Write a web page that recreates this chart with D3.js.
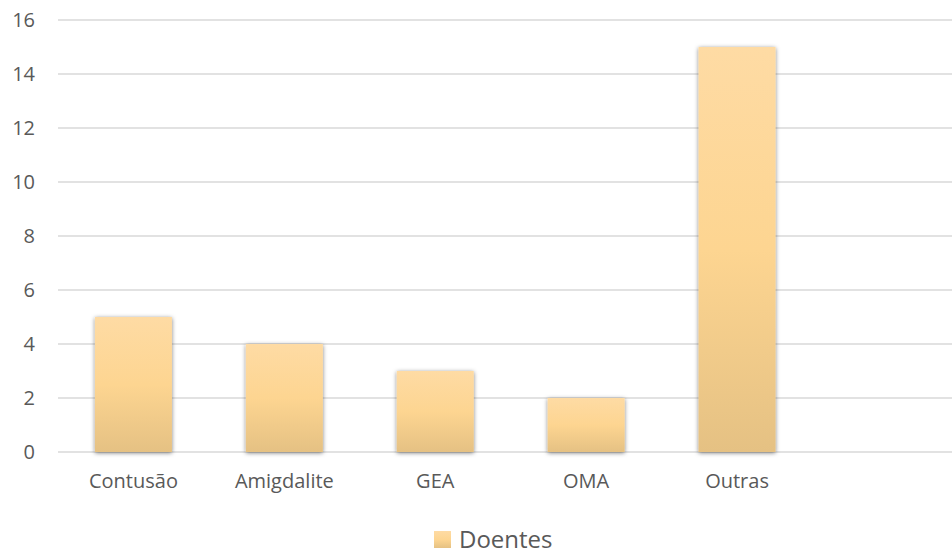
<!DOCTYPE html>
<html>
<head>
<meta charset="utf-8">
<script src="https://cdn.jsdelivr.net/npm/d3@7"></script>
<style>
  body { margin: 0; background: #fff; }
  text { font-family: "Open Sans", "Noto Sans", sans-serif; fill: #595959; }
</style>
</head>
<body>
<div id="chart"></div>
<script>
// data
const categories = ["Contusão", "Amigdalite", "GEA", "OMA", "Outras", ""];
const doentes = [5, 4, 3, 2, 15];
const yTicks = [0, 2, 4, 6, 8, 10, 12, 14, 16];
const seriesName = "Doentes";

const width = 952, height = 554;

const svg = d3.select("#chart").append("svg")
    .attr("width", width)
    .attr("height", height);

const defs = svg.append("defs");

// light top to darker bottom, like the office fill
const grad = defs.append("linearGradient")
    .attr("id", "barFill")
    .attr("x1", 0).attr("y1", 0).attr("x2", 0).attr("y2", 1);
grad.append("stop").attr("offset", "0%").attr("stop-color", "#fedba4");
grad.append("stop").attr("offset", "50%").attr("stop-color", "#fdd591");
grad.append("stop").attr("offset", "100%").attr("stop-color", "#e5c183");

const shadow = defs.append("filter")
    .attr("id", "barShadow")
    .attr("x", "-20%").attr("y", "-20%")
    .attr("width", "140%").attr("height", "140%");
shadow.append("feDropShadow")
    .attr("dx", 0).attr("dy", 1)
    .attr("stdDeviation", 2.2)
    .attr("flood-color", "#000")
    .attr("flood-opacity", 0.5);

const x = d3.scaleBand()
    .domain(categories)
    .range([58, 963.4])
    .paddingInner(0.49)
    .paddingOuter(0.245);

const y = d3.scaleLinear()
    .domain([0, 16])
    .range([452, 20]);

// gridlines
svg.append("g")
    .selectAll("line")
    .data(yTicks)
    .enter().append("line")
    .attr("x1", 58)
    .attr("x2", 963.4)
    .attr("y1", d => y(d))
    .attr("y2", d => y(d))
    .attr("stroke", "#d9d9d9")
    .attr("stroke-width", 1.5);

// y axis labels
const yAxis = d3.axisLeft(y).tickValues(yTicks).tickSize(0).tickPadding(0);
svg.append("g")
    .attr("transform", "translate(35,0)")
    .call(yAxis)
    .call(g => g.select(".domain").remove())
    .selectAll("text")
    .attr("font-family", null)
    .style("font-size", "20px")
    .attr("fill", null);

// bars
svg.append("g")
    .selectAll("rect")
    .data(doentes)
    .enter().append("rect")
    .attr("x", (d, i) => x(categories[i]))
    .attr("y", d => y(d))
    .attr("width", x.bandwidth())
    .attr("height", d => y(0) - y(d))
    .attr("fill", "url(#barFill)")
    .attr("filter", "url(#barShadow)");

// x axis labels
const xAxis = d3.axisBottom(x).tickSize(0).tickPadding(0);
svg.append("g")
    .attr("transform", "translate(0,474)")
    .call(xAxis)
    .call(g => g.select(".domain").remove())
    .selectAll("text")
    .attr("font-family", null)
    .style("font-size", "20px")
    .attr("fill", null);

// legend
const legend = svg.append("g").attr("transform", "translate(434,531)");
legend.append("rect")
    .attr("width", 17)
    .attr("height", 17)
    .attr("fill", "url(#barFill)");
legend.append("text")
    .attr("x", 25)
    .attr("y", 17)
    .style("font-size", "24px")
    .text(seriesName);
</script>
</body>
</html>
